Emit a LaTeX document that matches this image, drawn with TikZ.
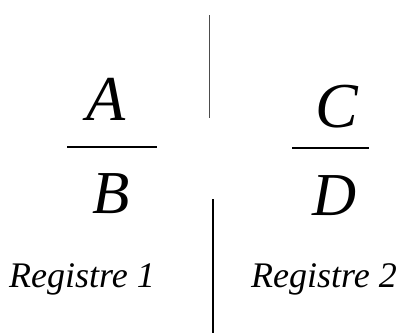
\documentclass[tikz,border=0pt]{standalone}
\usepackage{fontspec}
\setmainfont{Liberation Serif}[ItalicFont={Liberation Serif Italic}]
\begin{document}
\begin{tikzpicture}[x=1pt,y=-1pt,
  bigletter/.style={inner sep=0pt,anchor=base,font=\fontsize{64}{64}\selectfont\itshape},
  lowletter/.style={inner sep=0pt,anchor=base,font=\fontsize{61}{61}\selectfont\itshape},
  label/.style={inner sep=0pt,anchor=base west,font=\fontsize{36}{36}\selectfont\itshape},
  fracbar/.style={line width=2pt,black},
  thinsep/.style={line width=1pt,black!70},
  thicksep/.style={line width=2pt,black}]
\useasboundingbox (0,0) rectangle (401,333);
\node[bigletter] (A) at (106,120) {A};
\node[lowletter] (B) at (111,213) {B};
\node[bigletter] (C) at (337,127) {C};
\node[lowletter] (D) at (335,215) {D};
\node[label] (r1) at (9,287) {Registre 1};
\node[label] (r2) at (251,287) {Registre 2};
\coordinate (ab1) at (67,147);
\coordinate (ab2) at (157,147);
\coordinate (cd1) at (292,147.5);
\coordinate (cd2) at (369,147.5);
\coordinate (t1) at (209,15);
\coordinate (t2) at (209,118);
\coordinate (b1) at (212.5,199);
\coordinate (b2) at (212.5,333);
\draw[fracbar] (ab1) -- (ab2);
\draw[fracbar] (cd1) -- (cd2);
\draw[thinsep] (t1) -- (t2);
\draw[thicksep] (b1) -- (b2);
\end{tikzpicture}
\end{document}
